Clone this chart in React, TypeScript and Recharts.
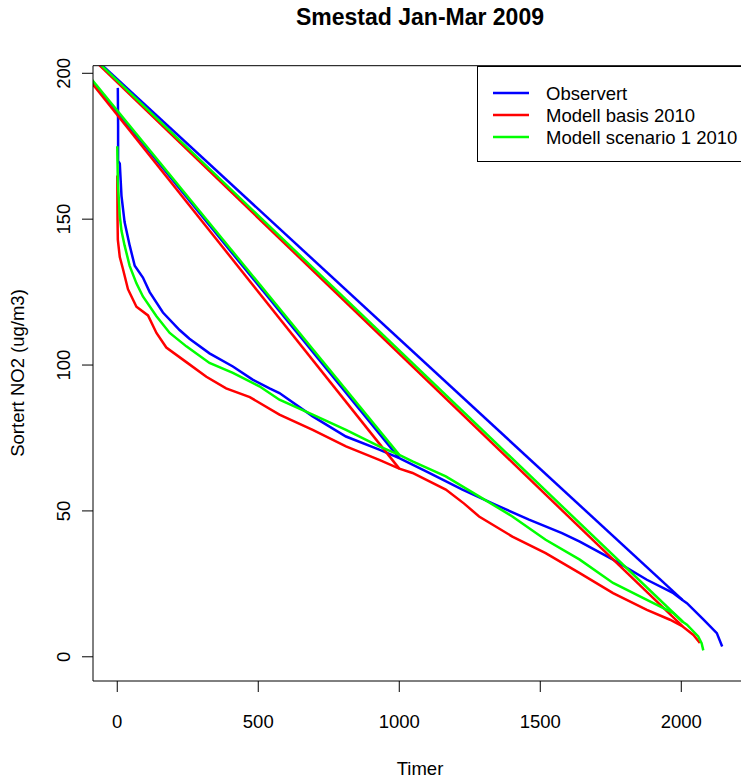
import React from 'react';
import { Label, Legend, Line, LineChart, XAxis, YAxis } from 'recharts';

const FONT = '"Liberation Sans", Arial, Helvetica, sans-serif';

// sorted hourly NO2, [timer, ug/m3]
const observed: [number, number][] = [
  [2, 195], [3, 182], [3, 170], [9, 169], [15, 158], [26, 149], [44, 141], [62, 134], [91, 130],
  [115, 125], [162, 118], [221, 112], [256, 109], [327, 104], [410, 99.5], [480, 95], [540, 92],
  [575, 90.4], [693, 82.4], [811, 75.5], [929, 71], [1000, 68.1], [1106, 63], [1224, 57.3],
  [1342, 52.1], [1460, 47], [1577, 42.4], [1640, 39.5], [1758, 33.3], [1878, 26.4], [1972, 21.8],
  [2005, 19.4], [2020, 18.4], [2079, 12.7], [2126, 8.1], [2145, 3.5],
];
const basis: [number, number][] = [
  [0, 165], [1, 150], [2, 143], [9, 137], [20, 133], [38, 126], [68, 120], [109, 117], [139, 111],
  [174, 106], [245, 101], [316, 96], [386, 92], [470, 89], [575, 83], [693, 77.8], [811, 72.1],
  [929, 67.5], [1000, 64.5], [1047, 63], [1165, 57.3], [1230, 52.5], [1283, 48.1], [1401, 41.2],
  [1519, 35.5], [1640, 28.7], [1758, 21.8], [1878, 16.1], [1960, 12.7], [2005, 10.4], [2043, 7.5],
  [2066, 4.7],
];
const scenario1: [number, number][] = [
  [0, 175], [2, 163], [9, 151], [15, 146], [26, 141], [44, 134], [68, 128], [91, 123.5], [139, 116.7],
  [186, 111], [245, 106.4], [327, 100.7], [410, 97.3], [504, 92.7], [575, 88.1], [693, 83], [811, 77.8],
  [929, 72.1], [1000, 69.2], [1047, 67], [1165, 61.8], [1283, 55], [1401, 48.1], [1519, 40.1],
  [1640, 33.3], [1758, 25.3], [1878, 19.5], [1972, 15], [2005, 12], [2020, 11], [2060, 7],
  [2072, 4.7], [2078, 2.2],
];

// the straight wrap-around segments, they start outside the plot box
const observedChords: [number, number][][] = [
  [[-200, 210.4], [1000, 68.1]],
  [[-200, 215.8], [2005, 19.4]],
];
const basisChords: [number, number][][] = [
  [[-200, 210], [1000, 64.5]],
  [[-200, 215.5], [2005, 10.4]],
];
const scenario1Chords: [number, number][][] = [
  [[-200, 210.8], [1000, 69.2]],
  [[-200, 216], [2005, 12]],
];

const xTicks = [0, 500, 1000, 1500, 2000];
const yTicks = [0, 50, 100, 150, 200];

const SERIES = [
  { name: 'Observert', color: '#0000ff', curve: observed, chords: observedChords },
  { name: 'Modell basis 2010', color: '#ff0000', curve: basis, chords: basisChords },
  { name: 'Modell scenario 1 2010', color: '#00ff00', curve: scenario1, chords: scenario1Chords },
];

const toPoints = (pairs: [number, number][]) => pairs.map(([x, y]) => ({ x, y }));

const XTick = ({ x, payload }: any) => (
  <text x={x} y={728} textAnchor="middle" fontFamily={FONT} fontSize={18.5} fill="#000">
    {payload.value}
  </text>
);

const YTick = ({ y, payload }: any) => (
  <text x={70} y={y} transform={`rotate(-90 70 ${y})`} textAnchor="middle" fontFamily={FONT} fontSize={18.5} fill="#000">
    {payload.value}
  </text>
);

const LegendBox = () => (
  <svg width={280} height={96} style={{ display: 'block' }}>
    <rect x={0.5} y={0.5} width={279} height={95} fill="#fff" stroke="#000" strokeWidth={1} />
    {SERIES.map((s, i) => (
      <g key={s.name}>
        <line x1={16} x2={52} y1={27 + 22 * i} y2={27 + 22 * i} stroke={s.color} strokeWidth={2.5} />
        <text x={69} y={34 + 22 * i} fontFamily={FONT} fontSize={18.5} fill="#000">{s.name}</text>
      </g>
    ))}
  </svg>
);

export default function App() {
  return (
    <div style={{ position: 'fixed', left: 0, top: 0, width: 741, height: 778, overflow: 'hidden', background: '#fff' }}>
      <div style={{ position: 'absolute', left: 0, width: 840, top: 4, textAlign: 'center', fontFamily: FONT, fontWeight: 'bold', fontSize: 23, lineHeight: '27px', color: '#000' }}>
        Smestad Jan-Mar 2009
      </div>
      <div style={{ position: 'absolute', left: 0, top: 0 }}>
        <LineChart width={800} height={778} margin={{ top: 65.7, right: 53, bottom: 0, left: 0 }}>
          <XAxis
            type="number"
            dataKey="x"
            domain={[-86, 2233]}
            allowDataOverflow
            ticks={xTicks}
            tickSize={11}
            height={97}
            axisLine={{ stroke: '#000' }}
            tickLine={{ stroke: '#000' }}
            tick={<XTick />}
          >
            <Label
              content={() => (
                <text x={420} y={775} textAnchor="middle" fontFamily={FONT} fontSize={18.5} fill="#000">Timer</text>
              )}
            />
          </XAxis>
          <YAxis
            type="number"
            domain={[-8.3, 202.6]}
            allowDataOverflow
            ticks={yTicks}
            tickSize={11}
            width={93}
            axisLine={{ stroke: '#000' }}
            tickLine={{ stroke: '#000' }}
            tick={<YTick />}
          >
            <Label
              content={() => (
                <text x={24} y={373} transform="rotate(-90 24 373)" textAnchor="middle" fontFamily={FONT} fontSize={18.5} fill="#000">
                  Sortert NO2 (ug/m3)
                </text>
              )}
            />
          </YAxis>
          <Legend
            layout="vertical"
            align="center"
            verticalAlign="middle"
            wrapperStyle={{ left: 477, top: 66, width: 280, height: 96 }}
            content={() => <LegendBox />}
          />
          {SERIES.flatMap((s) => [
            <Line
              key={`${s.name}-curve`}
              data={toPoints(s.curve)}
              dataKey="y"
              type="linear"
              stroke={s.color}
              strokeWidth={2.5}
              dot={false}
              activeDot={false}
              isAnimationActive={false}
            />,
            ...s.chords.map((c, i) => (
              <Line
                key={`${s.name}-chord-${i}`}
                data={toPoints(c)}
                dataKey="y"
                type="linear"
                stroke={s.color}
                strokeWidth={2.5}
                dot={false}
                activeDot={false}
                isAnimationActive={false}
              />
            )),
          ])}
        </LineChart>
      </div>
      <svg width={741} height={778} style={{ position: 'absolute', left: 0, top: 0, pointerEvents: 'none' }}>
        <line x1={93} x2={747} y1={65.7} y2={65.7} stroke="#000" strokeWidth={1} />
      </svg>
    </div>
  );
}
